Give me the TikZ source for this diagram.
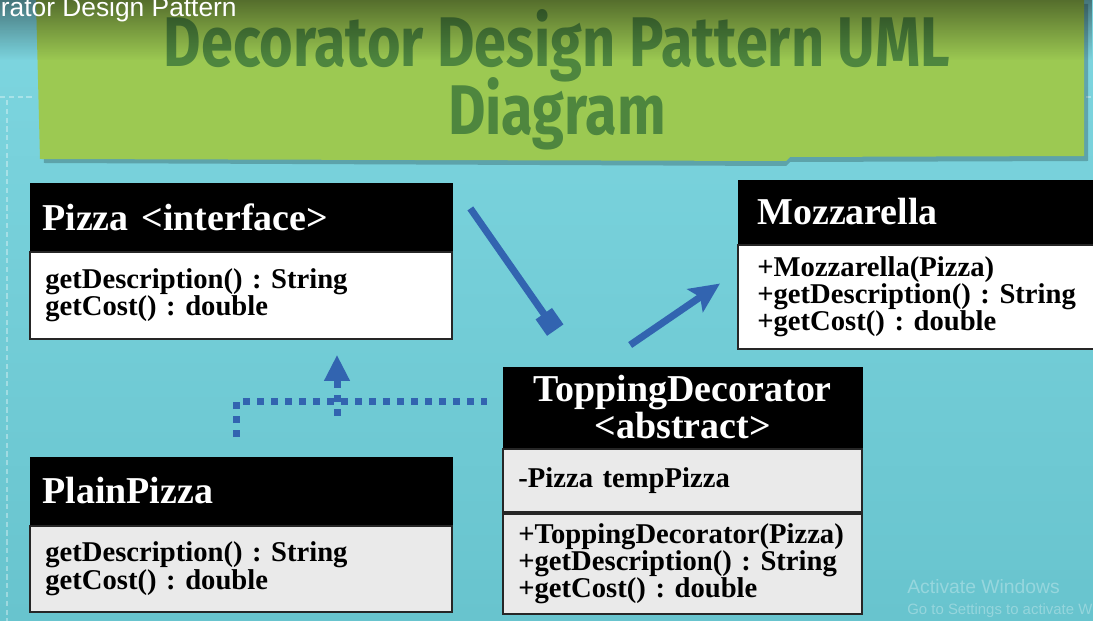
\documentclass[tikz,border=0pt]{standalone}
\usepackage{fontspec}
\setmainfont{Liberation Serif}
\newfontfamily\titlefamily{Fira Sans}
\newfontfamily\uifamily{Liberation Sans}
\usepackage{tikz}
\usetikzlibrary{arrows.meta,positioning,calc,fadings}
\frenchspacing
\definecolor{sky}{RGB}{126,214,224}
\definecolor{skydark}{RGB}{104,196,206}
\definecolor{leaf}{RGB}{156,201,82}
\definecolor{leafdark}{RGB}{78,134,62}
\definecolor{pen}{RGB}{50,100,176}
\definecolor{cellgray}{RGB}{234,234,234}
\newcommand\clsheadfont{\fontsize{21.6}{21}\selectfont\bfseries}
\newcommand\clsbodyfont{\fontsize{16.3}{15.4}\selectfont\bfseries}
\tikzset{clshead/.style={draw=black,fill=black,text=white,font=\clsheadfont,align=left,inner ysep=0pt,anchor=north west},clsbody/.style={draw=black!85,line width=1.2pt,fill=white,text=black,font=\clsbodyfont,align=left,inner ysep=0pt},assoc/.style={draw=pen,line width=0.14cm},realize/.style={draw=pen,line width=0.14cm,dash pattern=on 0.14cm off 0.14cm},titletext/.style={text=leafdark,font={\titlefamily\fontsize{40}{40}\selectfont\bfseries},anchor=base}}

\begin{document}
\begin{tikzpicture}[x=0.02cm,y=-0.02cm,node distance=0pt]
\useasboundingbox (0,0) rectangle (1093,621);
\clip (0,0) rectangle (1093,621);
\fill[top color=sky,bottom color=skydark] (0,0) rectangle (1093,621);
\draw[white,opacity=0.35,line width=1.5pt,dash pattern=on 3pt off 2pt] (7,100) -- (7,621);
\draw[white,opacity=0.35,line width=1.5pt,dash pattern=on 3pt off 2pt] (0,97) -- (34,97) (1086,97) -- (1093,97);
\fill[black,opacity=0.22] (40,4) -- (1088,4) -- (1088,161) -- (790,162) -- (786,166) -- (44,163) -- cycle;
\fill[leaf] (36,0) -- (1084,0) -- (1084,156) -- (790,157) -- (786,161) -- (40,159) -- cycle;
\node[titletext] (title) at (557,67) {\scalebox{0.82}[1]{Decorator Design Pattern UML}};
\node[titletext] (subtitle) at (557,135) {\scalebox{0.82}[1]{Diagram}};
\fill[black,path fading=south,fill opacity=0.45] (0,0) rectangle (1093,60);
\node[anchor=base west,text=white,font={\uifamily\fontsize{15}{15}\selectfont},inner sep=0pt] (overlay) at (-61,17) {Decorator Design Pattern};

\node[clshead,minimum height=1.34cm,text width=7.96cm,inner xsep=0.24cm] (pizza) at (30,183) {Pizza <interface>};
\node[clsbody,below=0pt of pizza,minimum height=1.74cm,text width=7.84cm,inner xsep=0.3cm] (pizzaops) {getDescription() : String\\getCost() : double};

\node[clshead,minimum height=1.26cm,text width=7.24cm,inner xsep=0.38cm] (mozz) at (738,180) {Mozzarella};
\node[clsbody,below=0pt of mozz,minimum height=2.08cm,text width=7.24cm,inner xsep=0.38cm] (mozzops) {+Mozzarella(Pizza)\\+getDescription() : String\\+getCost() : double};

\node[clshead,minimum height=1.6cm,text width=6.98cm,inner xsep=0.1cm,align=center] (tdhead) at (503,367) {ToppingDecorator\\<abstract>};
\node[clsbody,below=0pt of tdhead,fill=cellgray,minimum height=1.26cm,text width=6.58cm,inner xsep=0.3cm] (tdattr) {-Pizza tempPizza};
\node[clsbody,below=0pt of tdattr,fill=cellgray,minimum height=2.0cm,text width=6.58cm,inner xsep=0.3cm] (tdops) {+ToppingDecorator(Pizza)\\+getDescription() : String\\+getCost() : double};

\node[clshead,minimum height=1.34cm,text width=7.96cm,inner xsep=0.24cm] (plain) at (30,457) {PlainPizza};
\node[clsbody,below=0pt of plain,fill=cellgray,minimum height=1.72cm,text width=7.84cm,inner xsep=0.3cm] (plainops) {getDescription() : String\\getCost() : double};

\path (tdhead.north west) ++(78,0) coordinate (aggend);
\path (tdhead.north west) ++(95,0) coordinate (wrapstart);
\path (mozzops.north west) ++(0,28) coordinate (wrapend);
\coordinate (jl) at (236,402);
\coordinate (jr) at (487,402);
\coordinate (jm) at (337,416);
\draw[assoc,-{Square[length=0.4cm,width=0.4cm]},shorten <=0.62cm,shorten >=0.9cm] (pizza.north east) -- (aggend);
\draw[assoc,-{Stealth[length=0.6cm,width=0.55cm,inset=0.12cm]},shorten <=0.78cm,shorten >=0.42cm] (wrapstart) -- (wrapend);
\draw[realize,shorten <=0.4cm] (jl |- plain.north) -- (jl) -- (jr);
\draw[realize,-{Triangle[length=0.52cm,width=0.48cm]},shorten >=0.3cm] (jm) -- (jm |- pizzaops.south);

\node[anchor=base west,text=white,opacity=0.3,font={\uifamily\fontsize{11}{11}\selectfont},inner sep=0pt] (activate) at (907,594) {Activate Windows};
\node[anchor=base west,text=white,opacity=0.3,font={\uifamily\fontsize{8.5}{8.5}\selectfont},inner sep=0pt] (settings) at (907,615) {Go to Settings to activate Windows.};
\end{tikzpicture}
\end{document}
